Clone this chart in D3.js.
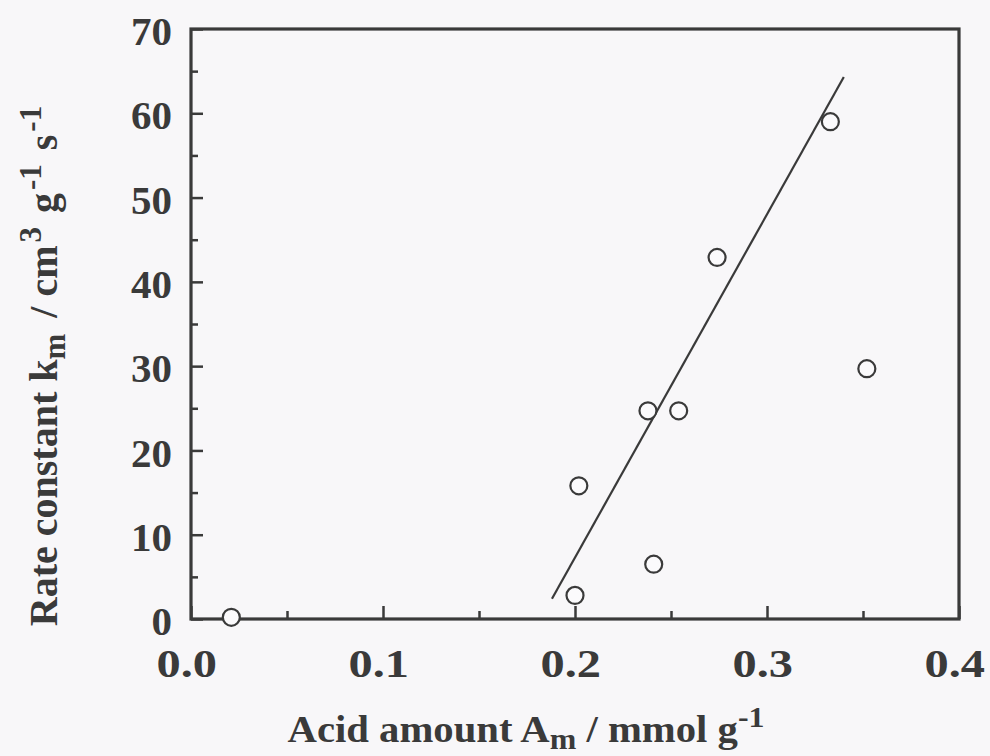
<!DOCTYPE html>
<html>
<head>
<meta charset="utf-8">
<script src="https://cdn.jsdelivr.net/npm/d3@7"></script>
<style>
  html, body { margin: 0; padding: 0; background: #f8f7f9; }
  svg { display: block; }
  text { font-family: "Liberation Serif", "Times New Roman", serif; font-weight: bold; fill: #3a3a3a; }
</style>
</head>
<body>
<svg id="chart" width="990" height="756"></svg>
<script>
// Data
const acidAmount = [0.021, 0.200, 0.202, 0.238, 0.241, 0.254, 0.274, 0.333, 0.352];
const rateConstant = [0.2, 2.8, 15.8, 24.7, 6.5, 24.7, 42.9, 59.0, 29.7];
const fitLineX = [0.188, 0.340];
const fitLineY = [2.4, 64.3];
const xMajorTicks = [0.0, 0.1, 0.2, 0.3, 0.4];
const xMinorTicks = [0.05, 0.15, 0.25, 0.35];
const yMajorTicks = [0, 10, 20, 30, 40, 50, 60, 70];
const yMinorTicks = [5, 15, 25, 35, 45, 55, 65];

const svg = d3.select("#chart");
const ink = "#3a3a3a";
const mLeft = 191, mRight = 959, mTop = 29, mBottom = 619;

const x = d3.scaleLinear().domain([0, 0.4]).range([mLeft, mRight]);
const y = d3.scaleLinear().domain([0, 70]).range([mBottom, mTop]);

// Axes
const gy = svg.append("g").attr("transform", `translate(${mLeft},0)`)
  .call(d3.axisLeft(y).tickValues(yMajorTicks).tickSize(-12).tickPadding(19).tickFormat(d3.format("d")));
const gyMinor = svg.append("g").attr("transform", `translate(${mLeft},0)`)
  .call(d3.axisLeft(y).tickValues(yMinorTicks).tickSize(-7).tickFormat(""));
const gx = svg.append("g").attr("transform", `translate(0,${mBottom})`)
  .call(d3.axisBottom(x).tickValues(xMajorTicks).tickSize(-13).tickPadding(29).tickFormat(d3.format(".1f")));
const gxMinor = svg.append("g").attr("transform", `translate(0,${mBottom})`)
  .call(d3.axisBottom(x).tickValues(xMinorTicks).tickSize(-8).tickFormat(""));

[gy, gyMinor, gx, gxMinor].forEach(g => {
  g.select(".domain").remove();
  g.selectAll(".tick line").attr("stroke", ink).attr("stroke-width", 2.5);
  g.selectAll(".tick text").attr("font-size", 41).attr("fill", ink)
    .style("font-family", '"Liberation Serif", serif').style("font-weight", "bold");
});
gy.selectAll(".tick text").attr("dy", "0.38em");
gx.selectAll(".tick text").attr("dx", -4).attr("transform", "scale(1.18,1)");

// Frame
svg.append("rect")
  .attr("x", mLeft).attr("y", mTop)
  .attr("width", mRight - mLeft).attr("height", mBottom - mTop)
  .attr("fill", "none").attr("stroke", ink).attr("stroke-width", 3.2);

// Fit line
svg.append("line")
  .attr("x1", x(fitLineX[0])).attr("y1", y(fitLineY[0]))
  .attr("x2", x(fitLineX[1])).attr("y2", y(fitLineY[1]))
  .attr("stroke", ink).attr("stroke-width", 2.2);

// Points
svg.append("g").selectAll("circle")
  .data(acidAmount.map((a, i) => [a, rateConstant[i]]))
  .join("circle")
  .attr("cx", d => x(d[0])).attr("cy", d => y(d[1]))
  .attr("r", 8.5)
  .attr("fill", "#fbfafc").attr("stroke", ink).attr("stroke-width", 2.2);

// X title
const xt = svg.append("text")
  .attr("transform", "translate(526,742) scale(1.1,1)")
  .attr("text-anchor", "middle").attr("font-size", 37);
xt.append("tspan").text("Acid amount A");
xt.append("tspan").attr("font-size", 29).attr("dy", 7).text("m");
xt.append("tspan").attr("dy", -7).text(" / mmol g");
xt.append("tspan").attr("font-size", 29).attr("dy", -15).text("-1");

// Y title
const yt = svg.append("text")
  .attr("transform", `translate(57,366) rotate(-90)`)
  .attr("text-anchor", "middle").attr("font-size", 40);
yt.append("tspan").text("Rate constant k");
yt.append("tspan").attr("font-size", 31).attr("dy", 8).text("m");
yt.append("tspan").attr("dy", -8).attr("dx", 6).text(" / cm");
yt.append("tspan").attr("font-size", 31).attr("dy", -16).attr("dx", 3).text("3");
yt.append("tspan").attr("dy", 16).attr("dx", 4).text(" g");
yt.append("tspan").attr("font-size", 31).attr("dy", -16).attr("dx", 3).text("-1");
yt.append("tspan").attr("dy", 16).attr("dx", 4).text(" s");
yt.append("tspan").attr("font-size", 31).attr("dy", -16).attr("dx", 3).text("-1");
</script>
</body>
</html>
